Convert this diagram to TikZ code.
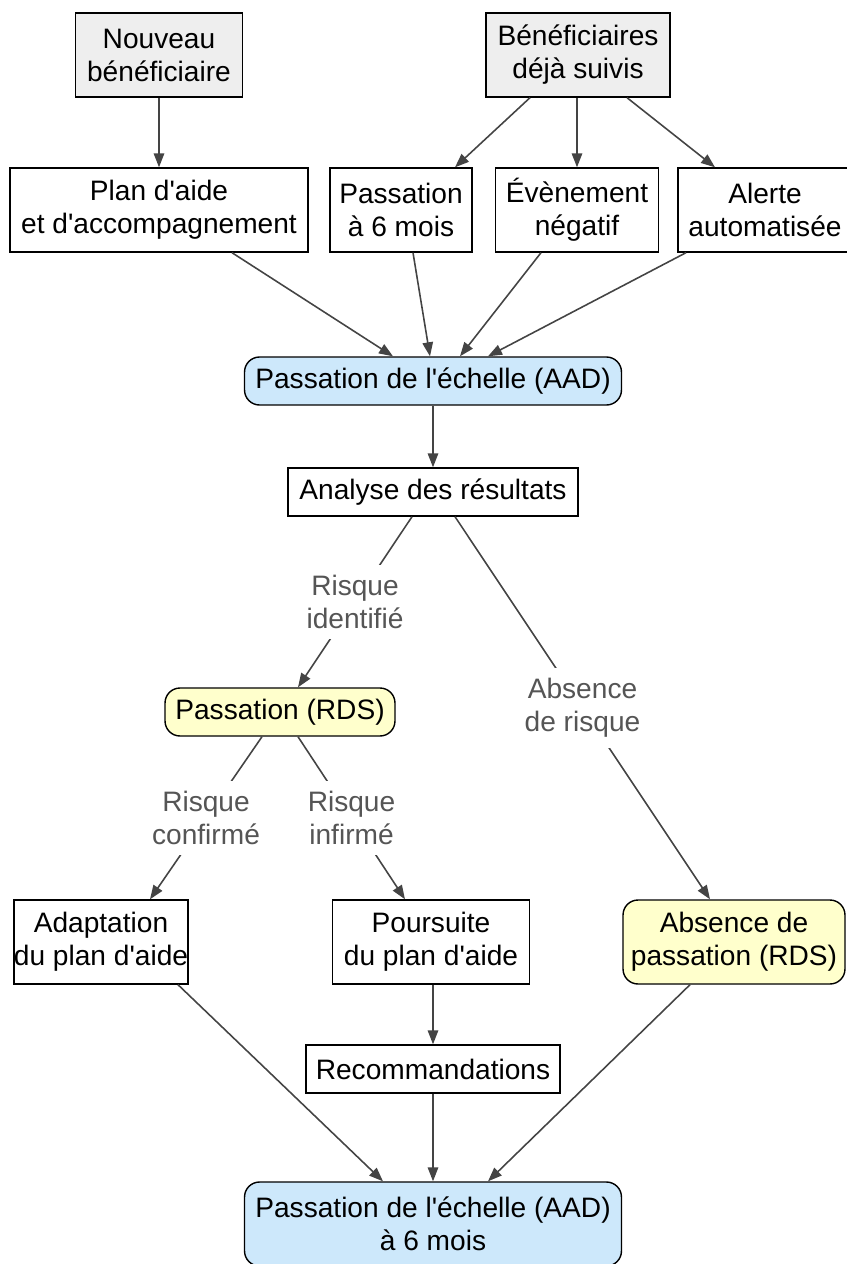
\documentclass[tikz,border=0pt]{standalone}
\usepackage{fontspec}
\setmainfont{Liberation Sans}[Ligatures=TeXOff]
\usetikzlibrary{arrows.meta,calc}

\definecolor{boxgray}{HTML}{EEEEEE}
\definecolor{aadblue}{HTML}{CDE8FB}
\definecolor{rdsyellow}{HTML}{FFFFCC}
\definecolor{edgegray}{HTML}{444444}
\definecolor{labelgray}{HTML}{555555}

\begin{document}
\begin{tikzpicture}[x=0.02cm, y=-0.02cm, font=\fontsize{16}{18.8}\selectfont]
    \tikzstyle{box}=[draw=black, line width=0.8pt, align=center, inner sep=0pt, minimum height=1.68cm]
    \tikzstyle{source}=[box, fill=boxgray]
    \tikzstyle{aad}=[box, rounded corners=0.3cm, fill=aadblue]
    \tikzstyle{rds}=[box, rounded corners=0.3cm, fill=rdsyellow]
    \tikzstyle{short}=[minimum height=0.96cm]
    \tikzstyle{arrow}=[draw=edgegray, line width=0.9pt, -{Triangle[length=0.28cm, width=0.21cm]}]
    \tikzstyle{annot}=[fill=white, text=labelgray, align=center, inner sep=6pt]

    \useasboundingbox (0,0) rectangle (846,1264);

    % Draw the entry points
    \node[source, minimum width=3.34cm] (nouv) at (159,55) {Nouveau\\bénéficiaire};
    \node[source, minimum width=3.68cm] (suivi) at (578,55) {Bénéficiaires\\déjà suivis};

    % Draw the triggers
    \node[box, minimum width=5.96cm] (plan) at (159,210) {Plan d'aide\\et d'accompagnement};
    \node[box, minimum width=2.84cm] (pas6) at (401,210) {Passation\\à 6 mois};
    \node[box, minimum width=3.26cm] (evt) at (577,210) {Évènement\\négatif};
    \node[box, minimum width=3.48cm] (alerte) at (765,210) {Alerte\\automatisée};

    % Draw the assessment and the analysis
    \node[aad, short, minimum width=7.54cm] (aad) at (433,381) {Passation de l'échelle (AAD)};
    \node[box, short, minimum width=5.80cm] (ana) at (433,492) {Analyse des résultats};

    % Draw the RDS branch
    \node[rds, short, minimum width=4.60cm] (rds) at (280,712) {Passation (RDS)};
    \node[box, minimum width=3.46cm] (adapt) at (101,942) {Adaptation\\du plan d'aide};
    \node[box, minimum width=3.94cm] (pours) at (431,942) {Poursuite\\du plan d'aide};
    \node[rds, minimum width=4.44cm] (absp) at (734,942) {Absence de\\passation (RDS)};
    \node[box, short, minimum width=5.08cm] (reco) at (433,1069) {Recommandations};

    % Draw the final assessment
    \node[aad, minimum width=7.54cm] (aad6) at (433,1224) {Passation de l'échelle (AAD)\\à 6 mois};

    % Connect every box with the box below it
    \foreach \src/\sx/\dst/\dx in {nouv/0/plan/0, suivi/-48/pas6/54, suivi/-1/evt/0,
            suivi/49/alerte/-50, plan/73/aad/-40, pas6/12/aad/-3, evt/-36/aad/27,
            alerte/-79/aad/55, aad/0/ana/0, adapt/77/aad6/-50, pours/2/reco/0,
            reco/0/aad6/0, absp/-44/aad6/55}
        \draw[arrow] ($(\src.south)+(\sx,0)$) -- ($(\dst.north)+(\dx,0)$);

    % Connect the boxes that carry a label on the way
    \draw[arrow] ($(ana.south)+(-21,0)$) -- node[annot] {Risque\\identifié} ($(rds.north)+(18,0)$);
    \draw[arrow] ($(ana.south)+(22,0)$) -- node[annot] {Absence\\de risque} ($(absp.north)+(-24,0)$);
    \draw[arrow] ($(rds.south)+(-18,0)$) -- node[annot] {Risque\\confirmé} ($(adapt.north)+(49,0)$);
    \draw[arrow] ($(rds.south)+(18,0)$) -- node[annot] {Risque\\infirmé} ($(pours.north)+(-26,0)$);
\end{tikzpicture}
\end{document}
